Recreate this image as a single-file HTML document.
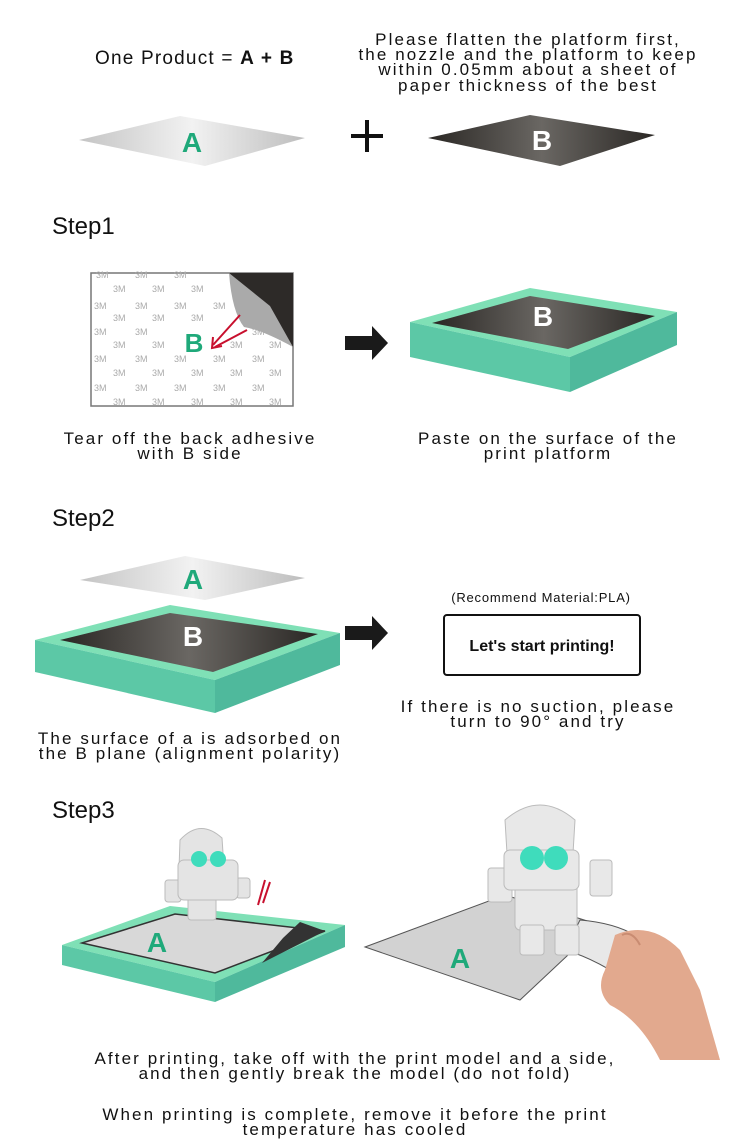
<!DOCTYPE html>
<html><head><meta charset="utf-8"><style>
html,body{margin:0;padding:0;background:#fff;}
svg{display:block}
text{font-family:"Liberation Sans","DejaVu Sans",sans-serif;}
.cap{letter-spacing:2.1px}
</style></head><body>
<svg width="740" height="1144" viewBox="0 0 740 1144" xmlns="http://www.w3.org/2000/svg">
<defs>
<linearGradient id="ga" x1="0" y1="0" x2="1" y2="0"><stop offset="0" stop-color="#c4c4c4"/><stop offset="0.5" stop-color="#f2f2f2"/><stop offset="1" stop-color="#bdbdbd"/></linearGradient>
<linearGradient id="gb" x1="0" y1="0" x2="1" y2="0"><stop offset="0" stop-color="#2a2724"/><stop offset="0.5" stop-color="#6a6763"/><stop offset="1" stop-color="#2a2724"/></linearGradient>
</defs>

<!-- Top -->
<text x="95" y="64" font-size="19" fill="#111" letter-spacing="1.2">One  Product = <tspan font-weight="bold">A + B</tspan></text>
<g font-size="17" fill="#111" text-anchor="middle" class="cap">
<text x="528" y="45">Please flatten the platform first,</text>
<text x="528" y="60">the nozzle and the platform to keep</text>
<text x="528" y="75">within 0.05mm about a sheet of</text>
<text x="528" y="91">paper thickness of the best</text>
</g>
<polygon points="79,140 180,116 305,138 205,166" fill="url(#ga)"/>
<text x="192" y="152" font-size="28" font-weight="bold" fill="#1fa97a" text-anchor="middle">A</text>
<rect x="351" y="134" width="32" height="4" fill="#111"/><rect x="365" y="120" width="4" height="32" fill="#111"/>
<polygon points="428,138 530,115 655,135 560,166" fill="url(#gb)"/>
<text x="542" y="150" font-size="28" font-weight="bold" fill="#fff" text-anchor="middle">B</text>

<!-- Step1 -->
<text x="52" y="234" font-size="24" fill="#111">Step1</text>
<rect x="91" y="273" width="202" height="133" fill="#fff" stroke="#777" stroke-width="1.5"/>
<g font-size="9" fill="#aaa">
<text x="96" y="278">3M</text><text x="135" y="278">3M</text><text x="174" y="278">3M</text>
<text x="113" y="292">3M</text><text x="152" y="292">3M</text><text x="191" y="292">3M</text>
<text x="94" y="309">3M</text><text x="135" y="309">3M</text><text x="174" y="309">3M</text><text x="213" y="309">3M</text>
<text x="113" y="321">3M</text><text x="152" y="321">3M</text><text x="191" y="321">3M</text>
<text x="94" y="335">3M</text><text x="135" y="335">3M</text><text x="252" y="335">3M</text>
<text x="113" y="348">3M</text><text x="152" y="348">3M</text><text x="230" y="348">3M</text><text x="269" y="348">3M</text>
<text x="94" y="362">3M</text><text x="135" y="362">3M</text><text x="174" y="362">3M</text><text x="213" y="362">3M</text><text x="252" y="362">3M</text>
<text x="113" y="376">3M</text><text x="152" y="376">3M</text><text x="191" y="376">3M</text><text x="230" y="376">3M</text><text x="269" y="376">3M</text>
<text x="94" y="391">3M</text><text x="135" y="391">3M</text><text x="174" y="391">3M</text><text x="213" y="391">3M</text><text x="252" y="391">3M</text>
<text x="113" y="405">3M</text><text x="152" y="405">3M</text><text x="191" y="405">3M</text><text x="230" y="405">3M</text><text x="269" y="405">3M</text>
</g>
<polygon points="229,273 293,273 293,347" fill="#2d2a28"/>
<path d="M229,273 Q232,312 244,327 Q262,330 293,347 L270,306 Z" fill="#aaa"/>
<text x="194" y="352" font-size="26" font-weight="bold" fill="#1fa97a" text-anchor="middle">B</text>
<path d="M240,315 L213,345 M247,330 L215,347" stroke="#c8102e" stroke-width="2" fill="none"/>
<path d="M213,337 L212,348 L222,346" stroke="#c8102e" stroke-width="2" fill="none"/>
<polygon points="345,336 372,336 372,326 388,343 372,360 372,350 345,350" fill="#1a1a1a"/>
<polygon points="410,322 530,288 677,312 570,357" fill="#7fe0b6"/>
<polygon points="410,322 570,357 570,392 410,357" fill="#5cc8a6"/>
<polygon points="570,357 677,312 677,345 570,392" fill="#4fb99c"/>
<polygon points="432,323 530,296 655,316 568,349" fill="url(#gb)"/>
<text x="543" y="326" font-size="28" font-weight="bold" fill="#fff" text-anchor="middle">B</text>
<g font-size="17" fill="#111" text-anchor="middle" class="cap">
<text x="190" y="444">Tear off the back adhesive</text>
<text x="190" y="459">with B side</text>
<text x="548" y="444">Paste on the surface of the</text>
<text x="548" y="459">print platform</text>
</g>

<!-- Step2 -->
<text x="52" y="526" font-size="24" fill="#111">Step2</text>
<polygon points="80,580 185,556 305,578 205,600" fill="url(#ga)"/>
<text x="193" y="589" font-size="28" font-weight="bold" fill="#1fa97a" text-anchor="middle">A</text>
<polygon points="35,640 170,605 340,633 215,680" fill="#7fe0b6"/>
<polygon points="35,640 215,680 215,713 35,672" fill="#5cc8a6"/>
<polygon points="215,680 340,633 340,665 215,713" fill="#4fb99c"/>
<polygon points="60,640 170,613 318,634 213,672" fill="url(#gb)"/>
<text x="193" y="646" font-size="28" font-weight="bold" fill="#fff" text-anchor="middle">B</text>
<polygon points="345,626 372,626 372,616 388,633 372,650 372,640 345,640" fill="#1a1a1a"/>
<text x="541" y="602" font-size="13" fill="#111" text-anchor="middle" letter-spacing="0.8">(Recommend Material:PLA)</text>
<rect x="444" y="615" width="196" height="60" rx="3" fill="#fff" stroke="#111" stroke-width="2"/>
<text x="542" y="651" font-size="16" font-weight="bold" fill="#111" text-anchor="middle">Let's start printing!</text>
<g font-size="17" fill="#111" text-anchor="middle" class="cap">
<text x="538" y="712">If there is no suction, please</text>
<text x="538" y="727">turn to 90° and try</text>
<text x="190" y="744">The surface of a is adsorbed on</text>
<text x="190" y="759">the B plane (alignment polarity)</text>
</g>

<!-- Step3 -->
<text x="52" y="818" font-size="24" fill="#111">Step3</text>
<polygon points="62,945 170,906 345,925 215,982" fill="#7fe0b6"/>
<polygon points="62,945 215,982 215,1002 62,965" fill="#5cc8a6"/>
<polygon points="215,982 345,925 345,947 215,1002" fill="#4fb99c"/>
<polygon points="82,943 175,914 325,931 215,973" fill="#d8d8d8" stroke="#333" stroke-width="1.5"/>
<polygon points="262,963 325,931 300,922 283,938" fill="#333"/>
<text x="157" y="952" font-size="28" font-weight="bold" fill="#1fa97a" text-anchor="middle">A</text>
<g fill="#e4e4e4" stroke="#bbb">
<path d="M178,898 L180,840 Q200,818 222,838 L226,898 Z"/>
<rect x="188" y="890" width="28" height="30" rx="3"/>
<rect x="165" y="880" width="16" height="22" rx="3"/>
<rect x="236" y="878" width="14" height="20" rx="3"/>
<rect x="178" y="860" width="60" height="40" rx="6"/>
</g>
<circle cx="199" cy="859" r="8" fill="#3fdcbc"/><circle cx="218" cy="859" r="8" fill="#3fdcbc"/>
<path d="M258,905 L265,880 M263,903 L270,882" stroke="#c8102e" stroke-width="2"/>
<polygon points="365,947 505,895 600,925 520,1000" fill="#d2d2d2" stroke="#555" stroke-width="1"/>
<path d="M580,920 Q640,925 660,960 L640,990 Q600,960 565,950 Z" fill="#e8e8e8" stroke="#555"/>
<text x="460" y="968" font-size="28" font-weight="bold" fill="#1fa97a" text-anchor="middle">A</text>
<g fill="#e8e8e8" stroke="#bbb">
<path d="M508,870 L505,820 Q540,790 575,820 L572,870 Z"/>
<rect x="515" y="880" width="62" height="50" rx="5"/>
<rect x="520" y="925" width="24" height="30" rx="3"/>
<rect x="555" y="925" width="24" height="30" rx="3"/>
<rect x="488" y="868" width="24" height="34" rx="3"/>
<rect x="590" y="860" width="22" height="36" rx="3"/>
<rect x="504" y="850" width="75" height="40" rx="6"/>
</g>
<circle cx="532" cy="858" r="12" fill="#3fdcbc"/><circle cx="556" cy="858" r="12" fill="#3fdcbc"/>
<path d="M615,935 Q650,920 680,950 L700,990 L720,1060 L660,1060 Q640,1020 610,1005 Q595,990 605,970 Z" fill="#e2a98e"/>
<path d="M622,935 Q632,930 640,945" stroke="#c98c72" stroke-width="2" fill="none"/>
<g font-size="17" fill="#111" text-anchor="middle" class="cap">
<text x="355" y="1064">After printing, take off with the print model and a side,</text>
<text x="355" y="1079">and then gently break the model (do not fold)</text>
<text x="355" y="1120">When printing is complete, remove it before the print</text>
<text x="355" y="1135">temperature has cooled</text>
</g>
</svg>
</body></html>
